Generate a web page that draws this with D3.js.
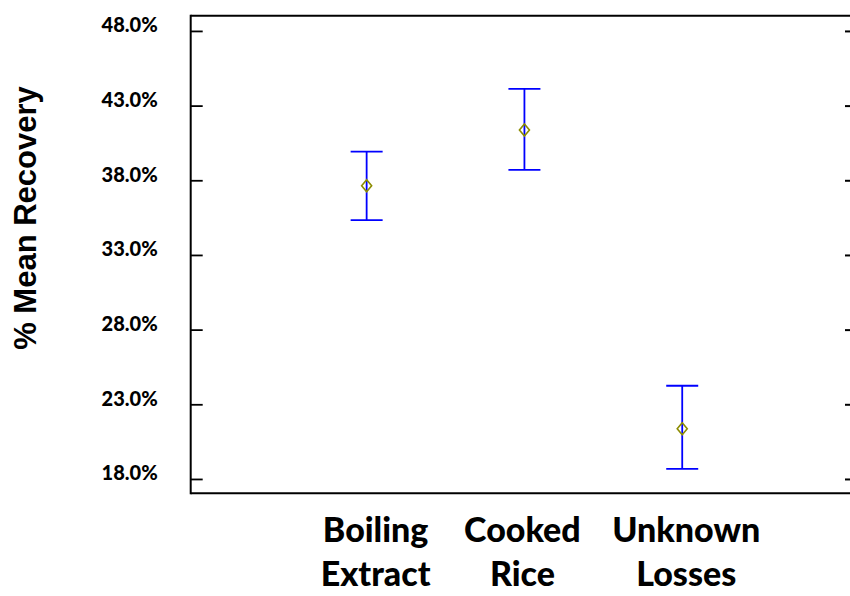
<!DOCTYPE html>
<html>
<head>
<meta charset="utf-8">
<script src="https://cdn.jsdelivr.net/npm/d3@7"></script>
<style>
    body { margin: 0; background: #fff; }
    svg { display: block; }
</style>
</head>
<body>
<svg id="chart" width="850" height="596"></svg>
<script>
(function()
{
    // values
    var categories = [["Boiling", "Extract"], ["Cooked", "Rice"], ["Unknown", "Losses"]];
    var means = [37.63, 41.37, 21.36];
    var upper = [39.92, 44.12, 24.24];
    var lower = [35.33, 38.70, 18.68];
    var yTicks = [18, 23, 28, 33, 38, 43, 48];

    var W = 850, H = 596;
    var left = 190.7, right = 858, top = 15.7, bottom = 493.3;
    var CAP = 16; // half width of error caps
    var labelNudge = [9, -2, 4];

    var svg = d3.select("#chart");

    var x = d3.scaleLinear().domain([-0.115, 4.114]).range([left, right]);
    var y = d3.scaleLinear().domain([17.04, 49.02]).range([bottom, top]);

    // frame
    var frame = svg.append("g").attr("stroke", "#000").attr("stroke-width", 2).attr("fill", "none");
    frame.append("line").attr("x1", left).attr("x2", W).attr("y1", top).attr("y2", top);
    frame.append("line").attr("x1", left).attr("x2", W).attr("y1", bottom).attr("y2", bottom);
    frame.append("line").attr("x1", left).attr("x2", left).attr("y1", top - 1).attr("y2", bottom + 1);

    // left axis with inward ticks
    var yAxis = d3.axisRight(y)
        .tickValues(yTicks)
        .tickSize(12)
        .tickFormat(function(d) { return d3.format(".1f")(d) + "%"; });
    var ga = svg.append("g").attr("transform", "translate(" + left + ",0)").call(yAxis);
    ga.select(".domain").remove();
    ga.selectAll(".tick line").attr("stroke", "#000").attr("stroke-width", 1.8);
    ga.selectAll(".tick text")
        .attr("x", -33)
        .attr("dy", "0.05em")
        .attr("text-anchor", "end")
        .attr("fill", "#000")
        .style("font-family", "Lato, 'Open Sans', sans-serif")
        .style("font-weight", "900")
        .style("font-size", "20px");

    // right side ticks (axis is off the canvas)
    var gr = svg.append("g").attr("transform", "translate(" + right + ",0)")
        .call(d3.axisLeft(y).tickValues(yTicks).tickSize(13).tickFormat(""));
    gr.select(".domain").remove();
    gr.selectAll(".tick line").attr("stroke", "#000").attr("stroke-width", 2);

    // error bars
    var bars = svg.append("g").attr("stroke", "#0000ff").attr("stroke-width", 1.8).attr("fill", "none");
    means.forEach(function(m, i) {
        var cx = x(i + 1);
        bars.append("line").attr("x1", cx).attr("x2", cx).attr("y1", y(upper[i])).attr("y2", y(lower[i]));
        bars.append("line").attr("x1", cx - CAP).attr("x2", cx + CAP).attr("y1", y(upper[i])).attr("y2", y(upper[i]));
        bars.append("line").attr("x1", cx - CAP).attr("x2", cx + CAP).attr("y1", y(lower[i])).attr("y2", y(lower[i]));
    });

    // mean markers
    svg.append("g").selectAll("path")
        .data(means)
        .enter()
        .append("path")
        .attr("d", function(d, i) {
            var cx = x(i + 1), cy = y(d);
            return "M" + cx + "," + (cy - 6) + "L" + (cx + 5) + "," + cy + "L" + cx + "," + (cy + 6) + "L" + (cx - 5) + "," + cy + "Z";
        })
        .attr("fill", "none")
        .attr("stroke", "#8c8c00")
        .attr("stroke-width", 1.6);

    // category labels
    var lab = svg.append("g")
        .style("font-family", "Lato, 'Open Sans', sans-serif")
        .style("font-weight", "900")
        .style("font-size", "34px")
        .attr("text-anchor", "middle")
        .attr("fill", "#000");
    categories.forEach(function(c, i) {
        var t = lab.append("text").attr("x", x(i + 1) + labelNudge[i]);
        t.append("tspan").attr("x", x(i + 1) + labelNudge[i]).attr("y", 542).text(c[0]);
        t.append("tspan").attr("x", x(i + 1) + labelNudge[i]).attr("y", 586).text(c[1]);
    });

    // y title
    svg.append("text")
        .attr("transform", "translate(36,218) rotate(-90)")
        .attr("text-anchor", "middle")
        .style("font-family", "'Liberation Sans', Arial, sans-serif")
        .style("font-weight", "bold")
        .style("font-size", "31px")
        .attr("fill", "#000")
        .text("% Mean Recovery");
})();
</script>
</body>
</html>
